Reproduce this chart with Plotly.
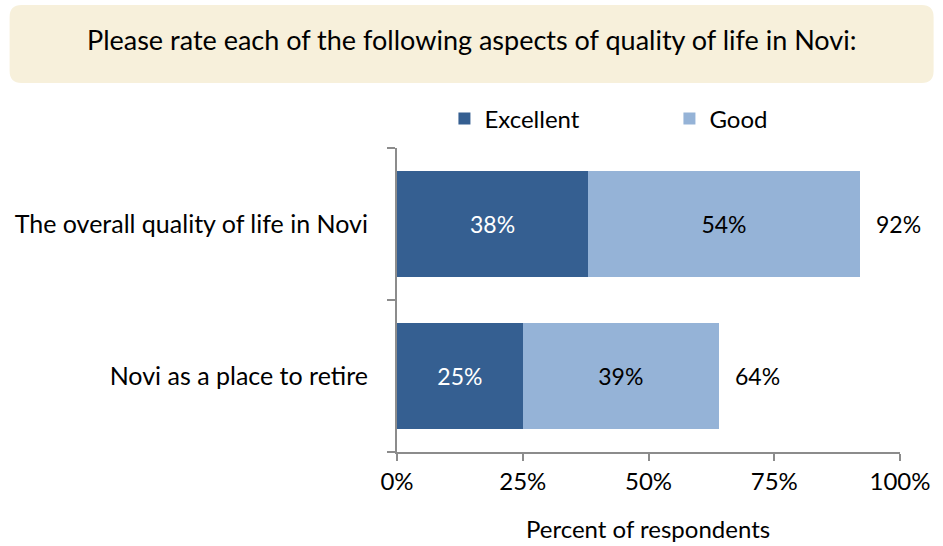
import plotly.graph_objects as go

categories = ["Novi as a place to retire", "The overall quality of life in Novi"]
excellent = [25, 38]
good = [39, 54]
totals = [64, 92]
tick_vals = [0, 25, 50, 75, 100]
tick_text = ["0%", "25%", "50%", "75%", "100%"]

W, H = 943, 546
L, R, T, B = 397, 37, 148, 94
pw, ph = W - L - R, H - T - B

def px2paper(x, y):
    return (x - L) / pw, (H - B - y) / ph

FONT = "Lato"

fig = go.Figure()
fig.add_trace(go.Bar(
    y=categories, x=excellent, orientation="h", name="Excellent",
    marker=dict(color="#355F91", line=dict(width=0)),
    text=[f"{v}%" for v in excellent], textposition="inside", insidetextanchor="middle",
    textfont=dict(color="white", size=23, family=FONT), hoverinfo="skip",
))
fig.add_trace(go.Bar(
    y=categories, x=good, orientation="h", name="Good",
    marker=dict(color="#95B3D7", line=dict(width=0)),
    text=[f"{v}%" for v in good], textposition="inside", insidetextanchor="middle",
    textfont=dict(color="black", size=23, family=FONT), hoverinfo="skip",
))

annotations = []
for c, t in zip(categories, totals):
    annotations.append(dict(x=t, y=c, xref="x", yref="y", text=f"{t}%", showarrow=False,
                            xanchor="left", xshift=14, font=dict(size=23, color="black", family=FONT)))

# title
tx, ty = px2paper(472, 40)
annotations.append(dict(x=tx, y=ty, xref="paper", yref="paper", text="Please rate each of the following aspects of quality of life in Novi:",
                        showarrow=False, xanchor="center", yanchor="middle", font=dict(size=27, color="black", family=FONT)))
# axis title
ax, ay = px2paper(651, 528)
annotations.append(dict(x=ax, y=ay, xref="paper", yref="paper", text="Percent of respondents",
                        showarrow=False, xanchor="center", yanchor="middle", font=dict(size=24, color="black", family=FONT)))

# rounded box path
x0, y0, x1, y1, r = 5, 5, 940, 83, 12
def P(x, y):
    a, b = px2paper(x, y)
    return f"{a:.5f},{b:.5f}"
path = (f"M {P(x0+r, y0)} L {P(x1-r, y0)} Q {P(x1, y0)} {P(x1, y0+r)} L {P(x1, y1-r)} "
        f"Q {P(x1, y1)} {P(x1-r, y1)} L {P(x0+r, y1)} Q {P(x0, y1)} {P(x0, y1-r)} "
        f"L {P(x0, y0+r)} Q {P(x0, y0)} {P(x0+r, y0)} Z")

lx, ly = px2paper(445, 119)

fig.update_layout(
    width=W, height=H, barmode="stack", bargap=0.3,
    margin=dict(l=L, r=R, t=T, b=B, pad=0),
    paper_bgcolor="white", plot_bgcolor="white",
    font=dict(family=FONT, size=21, color="black"),
    shapes=[dict(type="path", path=path, xref="paper", yref="paper",
                 fillcolor="#F7F0DB", line=dict(width=0), layer="below")],
    annotations=annotations,
    legend=dict(orientation="h", x=lx, y=ly, xanchor="left", yanchor="middle",
                font=dict(size=24, family=FONT), entrywidth=180, entrywidthmode="pixels",
                itemwidth=30, bgcolor="rgba(0,0,0,0)", traceorder="normal"),
    showlegend=True,
)
fig.update_xaxes(range=[0, 100], tickvals=tick_vals, ticktext=tick_text, showgrid=False, zeroline=False,
                 showline=True, linecolor="#8C8C8C", linewidth=2, ticks="outside", ticklen=7,
                 tickcolor="#8C8C8C", tickwidth=2, tickfont=dict(size=24, family=FONT))
fig.update_yaxes(showgrid=False, zeroline=False, showline=True, linecolor="#8C8C8C", linewidth=2,
                 ticks="outside", tickson="boundaries", ticklen=8, tickcolor="#8C8C8C", tickwidth=2,
                 tickfont=dict(size=25, family=FONT), ticklabelstandoff=22)

fig.write_html("out.html", config={"displayModeBar": False},
               post_script="document.documentElement.style.overflow='hidden';document.body.style.margin='0';document.body.style.overflow='hidden';")
